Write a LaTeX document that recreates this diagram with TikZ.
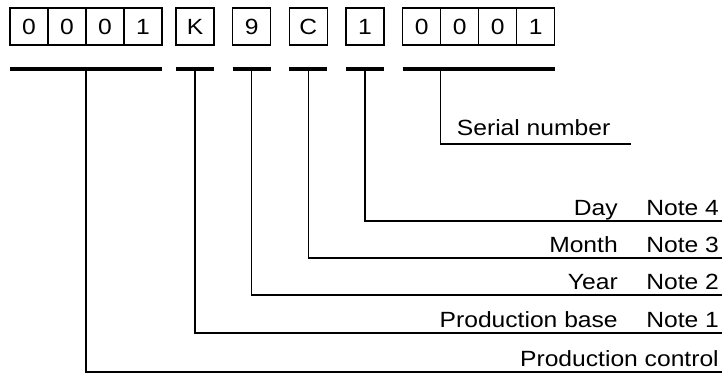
\documentclass[tikz,border=0pt]{standalone}
\usepackage{fontspec}
\setmainfont{Liberation Sans}[FakeStretch=1.12]
\usetikzlibrary{positioning}

\tikzset{
  cell/.style={draw, line width=0.9pt, minimum width=28.5pt, minimum height=27.75pt,
    inner sep=0pt, outer sep=0pt, font=\fontsize{16.5}{18}\selectfont},
  bar/.style={line width=2.4pt},
  lead/.style={line width=1.1pt},
  txt/.style={inner sep=0pt, font=\fontsize{16.5}{18}\selectfont},
}

\begin{document}
\begin{tikzpicture}[x=0.75pt, y=-0.75pt]
  \useasboundingbox (0,0) rectangle (725,376);

  % code boxes
  \node [cell] (c1) at (29,26.5) {0};
  \node [cell, right=0pt of c1] (c2) {0};
  \node [cell, right=0pt of c2] (c3) {0};
  \node [cell, right=0pt of c3] (c4) {1};
  \node [cell, right=10.5pt of c4] (pb) {K};
  \node [cell, right=14pt of pb] (yr) {9};
  \node [cell, right=14pt of yr] (mo) {C};
  \node [cell, right=14pt of mo] (dy) {1};
  \node [cell, right=14pt of dy] (s1) {0};
  \node [cell, right=0pt of s1] (s2) {0};
  \node [cell, right=0pt of s2] (s3) {0};
  \node [cell, right=0pt of s3] (s4) {1};

  % underlines
  \coordinate (ul) at (0,69);
  \draw [bar] (c1.west |- ul) -- (c4.east |- ul);
  \draw [bar] (pb.west |- ul) -- (pb.east |- ul);
  \draw [bar] (yr.west |- ul) -- (yr.east |- ul);
  \draw [bar] (mo.west |- ul) -- (mo.east |- ul);
  \draw [bar] (dy.west |- ul) -- (dy.east |- ul);
  \draw [bar] (s1.west |- ul) -- (s4.east |- ul);

  % line ends (helpers)
  \coordinate (sn_end) at (631,144);
  \coordinate (dy_end) at (722,221);
  \coordinate (mo_end) at (722,258);
  \coordinate (yr_end) at (722,295);
  \coordinate (pb_end) at (722,333);
  \coordinate (ctl_end) at (722,372);

  % leads
  \draw [lead] (s1.east |- ul) |- (sn_end);
  \draw [lead] (dy.center |- ul) |- (dy_end);
  \draw [lead] (mo.center |- ul) |- (mo_end);
  \draw [lead] (yr.center |- ul) |- (yr_end);
  \draw [lead] (pb.center |- ul) |- (pb_end);
  \draw [lead] (c2.east |- ul) |- (ctl_end);

  % labels
  \node [txt, anchor=base west] (sn_lbl) at ([shift={(16,-9)}]s1.east |- sn_end) {Serial number};
  \node [txt, anchor=base east] (dy_lbl) at ([shift={(-104,-6)}]dy_end) {Day};
  \node [txt, anchor=base west] (dy_note) at ([shift={(-76,-6)}]dy_end) {Note 4};
  \node [txt, anchor=base east] (mo_lbl) at ([shift={(-104,-6)}]mo_end) {Month};
  \node [txt, anchor=base west] (mo_note) at ([shift={(-76,-6)}]mo_end) {Note 3};
  \node [txt, anchor=base east] (yr_lbl) at ([shift={(-104,-6)}]yr_end) {Year};
  \node [txt, anchor=base west] (yr_note) at ([shift={(-76,-6)}]yr_end) {Note 2};
  \node [txt, anchor=base east] (pb_lbl) at ([shift={(-104,-6)}]pb_end) {Production base};
  \node [txt, anchor=base west] (pb_note) at ([shift={(-76,-6)}]pb_end) {Note 1};
  \node [txt, anchor=base east] (ctl_lbl) at ([shift={(-3,-6)}]ctl_end) {Production control};
\end{tikzpicture}
\end{document}
